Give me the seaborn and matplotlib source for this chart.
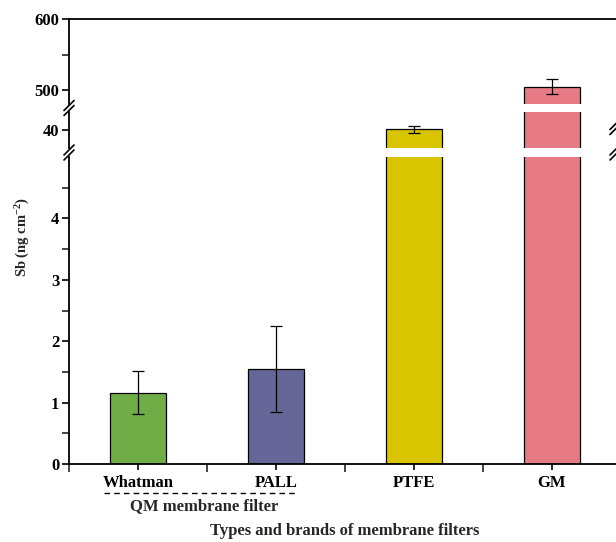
import numpy as np
import pandas as pd
import matplotlib
matplotlib.use("Agg")
import matplotlib.pyplot as plt
from matplotlib.lines import Line2D
import seaborn as sns

# ---- data ----
categories = ["Whatman", "PALL", "PTFE", "GM"]
values = [1.16, 1.54, 40.1, 504.5]
errors = [0.35, 0.70, 0.40, 11.0]
colors = ["#70AD47", "#666699", "#D9C400", "#E67A85"]
bottom_ticks = [0, 1, 2, 3, 4]
middle_ticks = [40]
top_ticks = [500, 600]
group_label = "QM membrane filter"
xlabel = "Types and brands of membrane filters"
ylabel = r"Sb (ng cm$^{\mathbf{-2}}$)"

sns.set_style("ticks")
plt.rcParams["font.family"] = ["Liberation Serif", "DejaVu Serif"]
plt.rcParams["font.weight"] = "bold"
plt.rcParams["mathtext.fontset"] = "custom"
plt.rcParams["mathtext.rm"] = "Liberation Serif:bold"
plt.rcParams["mathtext.bf"] = "Liberation Serif:bold"
plt.rcParams["mathtext.default"] = "bf"

W, H = 616, 542
fig = plt.figure(figsize=(W / 100, H / 100), dpi=100)

def fx(px):
    return px / W

def fy(py):
    return 1 - py / H

left_px, right_px = 69, 621
ax_b = fig.add_axes([fx(left_px), fy(464), fx(right_px - left_px), fy(157) - fy(464)])
ax_m = fig.add_axes([fx(left_px), fy(148), fx(right_px - left_px), fy(112) - fy(148)])
ax_t = fig.add_axes([fx(left_px), fy(104), fx(right_px - left_px), fy(19.3) - fy(104)])

df = pd.DataFrame({"cat": categories, "val": values, "err": errors})
pal = dict(zip(categories, colors))

for ax in (ax_b, ax_m, ax_t):
    sns.barplot(data=df, x="cat", y="val", hue="cat", palette=pal, legend=False,
                order=categories, width=0.4, edgecolor="black", linewidth=0.9,
                errorbar=None, saturation=1, ax=ax)
    ax.errorbar(np.arange(len(categories)), df["val"], yerr=df["err"], fmt="none",
                ecolor="black", elinewidth=0.9, capsize=4.5, capthick=0.9, zorder=5)
    ax.set_xlim(-0.5, 3.5)
    ax.set_xlabel("")
    ax.set_ylabel("")
    for s in ax.spines.values():
        s.set_linewidth(1.3)
        s.set_color("black")
    ax.tick_params(axis="y", direction="out", length=5, width=1.2, pad=2,
                   labelsize=12, colors="black")
    ax.tick_params(axis="y", which="minor", direction="out", length=5, width=1.2)

# bottom segment
ax_b.set_ylim(0, 5)
ax_b.set_yticks(bottom_ticks)
ax_b.set_yticks(np.arange(0.5, 5.0, 1.0), minor=True)
ax_b.set_yticklabels([str(t) for t in bottom_ticks], fontsize=12, fontweight="bold")
ax_b.spines["top"].set_visible(False)
ax_b.set_xticks(range(len(categories)))
ax_b.set_xticklabels(categories, fontsize=12, fontweight="bold")
ax_b.set_xticks(np.arange(-0.5, 4.0, 1.0), minor=True)
ax_b.tick_params(axis="x", direction="out", length=4, width=1.2, pad=4, colors="black")
ax_b.tick_params(axis="x", which="minor", direction="out", length=6, width=1.2)

# middle segment
ax_m.set_ylim(38, 42)
ax_m.set_yticks(middle_ticks)
ax_m.set_yticklabels([str(t) for t in middle_ticks], fontsize=12, fontweight="bold")
ax_m.spines["top"].set_visible(False)
ax_m.spines["bottom"].set_visible(False)
ax_m.set_xticks([])

# top segment
ax_t.set_ylim(480, 600)
ax_t.set_yticks(top_ticks)
ax_t.set_yticks([550], minor=True)
ax_t.set_yticklabels([str(t) for t in top_ticks], fontsize=12, fontweight="bold")
ax_t.spines["bottom"].set_visible(False)
ax_t.set_xticks([])

# break marks
def brk(xc, yc):
    for dy in (-2.5, 2.5):
        fig.add_artist(Line2D([fx(xc - 5), fx(xc + 5)],
                              [fy(yc + dy + 5), fy(yc + dy - 5)],
                              color="black", lw=1.2))

for yc in (108, 152.5):
    brk(left_px, yc)
for yc in (127, 152.5):
    brk(right_px - 6, yc)

# group dashed line and labels
fig.add_artist(Line2D([fx(104), fx(297)], [fy(493), fy(493)], color="black",
                      lw=1.0, linestyle=(0, (4, 3))))
fig.text(fx(204), fy(506), group_label, ha="center", va="center",
         fontsize=12, fontweight="bold")
fig.text(fx(345), fy(531), xlabel, ha="center", va="center",
         fontsize=12, fontweight="bold")
fig.text(fx(23), fy(237), ylabel, ha="center", va="center", rotation=90,
         fontsize=10.5, fontweight="bold")

fig.savefig("out.png", dpi=100)
